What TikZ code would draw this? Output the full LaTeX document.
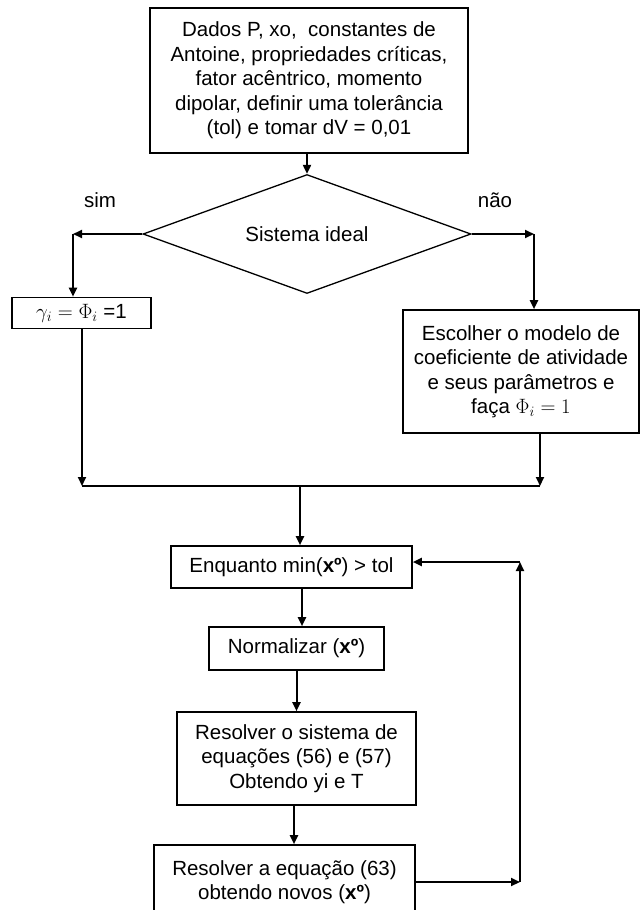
\documentclass[tikz,border=0pt]{standalone}
\usepackage{fontspec}
\setmainfont{Liberation Sans}
\usetikzlibrary{arrows.meta,shapes.geometric}
\begin{document}
\begin{tikzpicture}[x=1pt,y=-1pt,
  txt/.style={font=\fontsize{20.5}{24.5}\selectfont},
  box/.style={draw, line width=1.6pt, rectangle, align=center, inner sep=0pt, txt},
  arr/.style={line width=2pt, -{Triangle[length=9pt,width=8pt]}},
  ln/.style={line width=2pt}]
\useasboundingbox (0,0) rectangle (641,910);
\clip (0,0) rectangle (641,910);

\node[box, minimum width=318pt, minimum height=145pt] (top) at (309,80.5)
  {Dados P, xo,\ \ constantes de\\Antoine, propriedades críticas,\\fator acêntrico, momento\\dipolar, definir uma tolerância\\(tol) e tomar dV = 0,01};
\node[draw, diamond, aspect=2.76, minimum width=328pt, minimum height=119pt,
  inner sep=0pt, line width=1.3pt, txt] (dia) at (307,234) {Sistema ideal};
\node[txt] (sim) at (100,200) {sim};
\node[txt] (nao) at (495,200) {não};
\node[box, minimum width=139pt, minimum height=31pt] (gam) at (81.5,313)
  {$\gamma_i = \Phi_i$ =1};
\node[box, minimum width=236pt, minimum height=123pt] (esc) at (521,371.5)
  {Escolher o modelo de\\coeficiente de atividade\\e seus parâmetros e\\faça $\Phi_i = 1$};
\node[box, minimum width=241pt, minimum height=42pt] (enq) at (291.5,567)
  {Enquanto min(\textbf{xº}) > tol};
\node[box, minimum width=175pt, minimum height=43pt] (norm) at (296.5,648.5)
  {Normalizar (\textbf{xº})};
\node[box, minimum width=239pt, minimum height=93pt] (res) at (296.5,758.5)
  {Resolver o sistema de\\equações (56) e (57)\\Obtendo yi e T};
\node[box, minimum width=261pt, minimum height=74pt] (last) at (284.5,882)
  {Resolver a equação (63)\\obtendo novos (\textbf{xº})};

\coordinate (cL) at (73,234);
\coordinate (cR) at (534,234);
\coordinate (mL) at (82,486);
\coordinate (mR) at (540,486);
\coordinate (mC) at (300,486);
\coordinate (cB) at (520,882);
\coordinate (cT) at (520,562);

\draw[arr] (top.south -| dia.north) -- (dia.north);
\draw[arr] (dia.west) -- (cL);
\draw[arr] (cL) -- (cL |- gam.north);
\draw[arr] (dia.east) -- (cR);
\draw[arr] (cR) -- (cR |- esc.north);
\draw[arr] (mL |- gam.south) -- (mL);
\draw[arr] (mR |- esc.south) -- (mR);
\draw[ln] (mL) -- (mR);
\draw[arr] (mC) -- (mC |- enq.north);
\draw[arr] ([xshift=10.5pt]enq.south) -- ([xshift=5.5pt]norm.north);
\draw[arr] (norm.south) -- (res.north);
\draw[arr] ([xshift=-2.5pt]res.south) -- ([xshift=9.5pt]last.north);
\draw[arr] (last.east |- cB) -- (cB);
\draw[arr] (cB) -- (cT);
\draw[arr] (cT) -- (cT -| enq.east);
\end{tikzpicture}
\end{document}
